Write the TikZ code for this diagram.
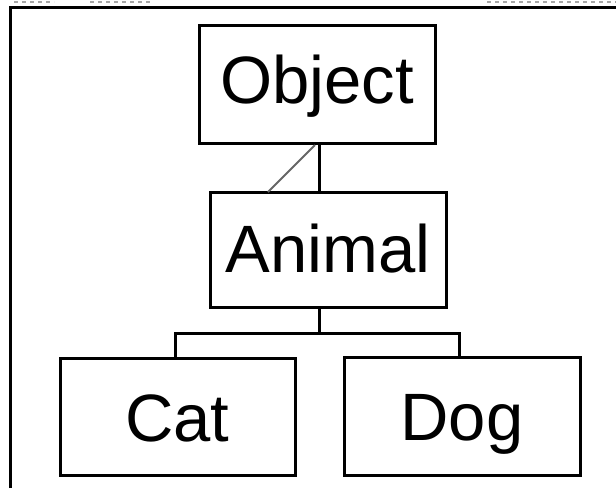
\documentclass[tikz,border=0pt]{standalone}
\usepackage{fontspec}
\setmainfont{Liberation Sans}
\usetikzlibrary{calc}
\begin{document}
\begin{tikzpicture}[x=1pt,y=-1pt,
  box/.style={draw=black,line width=3pt,fill=white,inner sep=0pt,outer sep=0pt,
    anchor=north west,align=center,font=\fontsize{67}{80}\selectfont},
  conn/.style={draw=black,line width=3pt},
  diag/.style={draw=black!60,line width=2pt},
  frame/.style={draw=black,line width=3pt},
  speck/.style={draw=black!35,line width=1.5pt,dash pattern=on 4pt off 4pt}]
\useasboundingbox[fill=white] (0,0) rectangle (616,488);
% frame (cropped window border)
\coordinate (fTL) at (10,7);
\coordinate (fTR) at (616,7);
\coordinate (fBL) at (10,488);
\draw[frame] (fBL) -- (fTL) -- (fTR);
\coordinate (s1a) at (14,2); \coordinate (s1b) at (54,2);
\coordinate (s2a) at (90,2); \coordinate (s2b) at (150,2);
\coordinate (s3a) at (487,2); \coordinate (s3b) at (616,2);
\draw[speck] (s1a) -- (s1b);
\draw[speck] (s2a) -- (s2b);
\draw[speck] (s3a) -- (s3b);
% boxes
\node[box,minimum width=236pt,text height=78pt,text depth=40pt] (obj) at (199,25) {Object};
\node[box,minimum width=236pt,text height=80pt,text depth=35pt] (ani) at (210,192) {Animal};
\node[box,minimum width=235pt,text height=83pt,text depth=34pt] (cat) at (60,358) {Cat};
\node[box,minimum width=236pt,text height=83pt,text depth=35pt] (dog) at (344,357) {Dog};
% connectors
\coordinate (trunk) at (319,0);
\coordinate (bar) at (0,333);
\coordinate (catx) at (175,0);
\coordinate (dogx) at (459,0);
\draw[conn] (obj.south -| trunk) -- (ani.north -| trunk);
\draw[diag] ($(obj.south west)+(116,2)$) -- ($(ani.north west)+(58,0)$);
\draw[conn] (ani.south -| trunk) -- (bar -| trunk);
\draw[conn] (cat.north -| catx) |- (bar -| trunk) -| (dog.north -| dogx);
\end{tikzpicture}
\end{document}
